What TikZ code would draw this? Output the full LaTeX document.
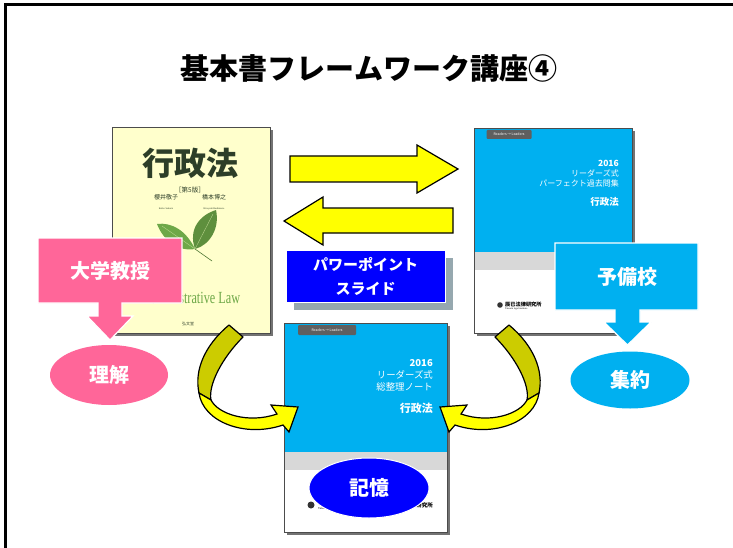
\documentclass[tikz,border=0pt]{standalone}
\usepackage{fontspec}
\usepackage{xcolor}
\usepackage{tikz}
\setmainfont{Liberation Serif}
\newfontfamily\jp{Noto Sans CJK JP}
\definecolor{pinkbox}{RGB}{255, 102, 153}
\definecolor{skyblue}{RGB}{0, 176, 240}
\definecolor{arrowyellow}{RGB}{255, 255, 0}
\definecolor{arrowolive}{RGB}{204, 204, 0}
\definecolor{pptblue}{RGB}{0, 0, 255}
\definecolor{pptshadow}{RGB}{150, 168, 175}
\definecolor{coveryellow}{RGB}{255, 255, 204}
\definecolor{leafgreen}{RGB}{110, 168, 72}
\definecolor{titlegreen}{RGB}{45, 62, 40}
\definecolor{bandgray}{RGB}{216, 216, 216}
\definecolor{tabgray}{RGB}{95, 95, 95}
\usetikzlibrary{shapes.geometric, arrows.meta, positioning, calc, shadows}

\tikzset{
    book/.style={draw=gray!60!black, line width=0.6pt, fill=white, anchor=north west,
                 inner sep=0pt, drop shadow={shadow xshift=2.5pt, shadow yshift=-2.5pt, fill=black, opacity=0.55}},
    bookline/.style={draw=gray!60!black, line width=0.6pt},
    covertext/.style={text=white, inner sep=0pt, anchor=east},
    tab/.style={fill=tabgray, rounded corners=1pt, text=white, inner sep=0pt,
                font=\jp\fontsize{3.5}{4}\selectfont},
    blockarrow/.style={fill=arrowyellow, draw=black, line width=1.2pt, line join=miter},
    callout/.style={draw=white, line width=1.2pt},
    bubble/.style={ellipse, inner sep=0pt, text=white, font=\jp\bfseries\fontsize{20}{20}\selectfont}
}

\begin{document}
\begin{tikzpicture}[x=1pt, y=-1pt]
    \useasboundingbox (0,0) rectangle (733,548);
    \fill[white] (0,0) rectangle (733,548);
    % slide frame
    \draw[line width=3pt] (5,548) -- (5,5) -- (733,5);

    \node[font=\jp\bfseries\fontsize{29}{34}\selectfont] (title) at (369,68) {基本書フレームワーク講座④};

    % textbook
    \node[book, fill=coveryellow, minimum width=158pt, minimum height=206pt] (kihonsho) at (112,127) {};
    \node[font=\jp\bfseries\fontsize{32}{32}\selectfont, text=titlegreen] (gyosei) at (190,163) {行政法};
    \node[font=\jp\fontsize{6.5}{7}\selectfont, text=titlegreen, below=2pt of gyosei] (edition) {［第5版］};
    \node[font=\jp\fontsize{6}{6}\selectfont, text=titlegreen] (author1) at (166,197) {櫻井敬子};
    \node[font=\jp\fontsize{6}{6}\selectfont, text=titlegreen] (author2) at (214,197) {橋本博之};
    \node[font=\fontsize{2.5}{3}\selectfont, text=titlegreen, below=0.5pt of author1] {Keiko Sakurai};
    \node[font=\fontsize{2.5}{3}\selectfont, text=titlegreen, below=0.5pt of author2] {Hiroyuki Hashimoto};
    \draw[leafgreen!70!black, line width=0.6pt] (195,249) -- (212,261);
    \fill[leafgreen] (195,249) .. controls (186,230) and (171,222) .. (157,224)
                     .. controls (163,240) and (178,252) .. (195,249) -- cycle;
    \fill[leafgreen!85!black] (195,249) .. controls (188,229) and (200,215) .. (216,210)
                     .. controls (220,228) and (210,245) .. (195,249) -- cycle;
    \draw[coveryellow!60!leafgreen, line width=0.3pt] (195,249) -- (162,226) (195,249) -- (213,214);
    \node[font=\fontsize{17}{17}\selectfont, text=leafgreen] (engtitle) at (191,298) {\scalebox{0.72}[1]{Administrative Law}};
    \node[font=\jp\fontsize{4}{4}\selectfont, text=titlegreen] (publisher) at (188,324) {弘文堂};

    % past exam collection
    \node[book, minimum width=158pt, minimum height=205pt] (kakomon) at (474,128) {};
    \fill[skyblue] (474,128) rectangle (632,252);
    \fill[bandgray] (474,252) rectangle (632,270);
    \draw[bookline] (kakomon.north west) rectangle (kakomon.south east);
    \node[tab, minimum width=45pt, minimum height=9pt] (tab1) at (509,134.5) {Readers → Leaders};
    \node[covertext, font=\jp\bfseries\fontsize{8.5}{9}\selectfont] (year1) at (619,163) {2016};
    \node[covertext, font=\jp\fontsize{8}{9}\selectfont] (series1) at (619,173) {リーダーズ式};
    \node[covertext, font=\jp\fontsize{8}{9}\selectfont] (name1) at (619,183.5) {パーフェクト過去問集};
    \node[covertext, font=\jp\bfseries\fontsize{9.5}{10}\selectfont] (subject1) at (619,202) {行政法};
    \fill[black!80] (500,305) circle (2.8pt);
    \node[font=\jp\bfseries\fontsize{5.2}{6}\selectfont, inner sep=0pt, anchor=west] (logo1) at (505,305) {辰已法律研究所};
    \node[font=\fontsize{2.5}{3}\selectfont, inner sep=0pt, anchor=north west] at (logo1.south west) {Tatsumi legal institute};

    % summary note
    \node[book, minimum width=163pt, minimum height=209pt] (note) at (284,323) {};
    \fill[skyblue] (284,323) rectangle (447,452);
    \fill[bandgray] (284,452) rectangle (447,470);
    \draw[bookline] (note.north west) rectangle (note.south east);
    \node[tab, minimum width=58pt, minimum height=10pt] (tab2) at (327,330) {Readers → Leaders};
    \node[covertext, font=\jp\bfseries\fontsize{9.5}{10}\selectfont] (year2) at (433,363) {2016};
    \node[covertext, font=\jp\fontsize{9.4}{10}\selectfont] (series2) at (433,374.5) {リーダーズ式};
    \node[covertext, font=\jp\fontsize{9.4}{10}\selectfont] (name2) at (433,387) {総整理ノート};
    \node[covertext, font=\jp\bfseries\fontsize{11}{11}\selectfont] (subject2) at (433,408) {行政法};
    \fill[black!80] (311,505) circle (3.5pt);
    \node[font=\fontsize{3}{3}\selectfont, inner sep=0pt, anchor=west] at (318,509) {Tatsumi legal institute};
    \node[font=\jp\bfseries\fontsize{5.5}{6}\selectfont, inner sep=0pt, anchor=east] at (433,505) {辰已法律研究所};
    \node[bubble, fill=pptblue, draw=white, line width=1pt, minimum width=120pt, minimum height=60pt] (kioku) at (369,488) {記憶};

    % arrows between the books
    \draw[blockarrow] (290,156) -- (417,156) -- (417,145) -- (458,169) -- (417,193) -- (417,182) -- (290,182) -- cycle;
    \draw[blockarrow] (453,208) -- (323,208) -- (323,197) -- (284,221) -- (323,245) -- (323,233) -- (453,233) -- cycle;

    \fill[pptshadow] (294,258) rectangle (453,310);
    \node[fill=pptblue, draw=white, line width=0.8pt, minimum width=159pt, minimum height=52pt, inner sep=0pt,
          text=white, align=center, font=\jp\bfseries\fontsize{15}{24}\selectfont] (slide) at (365.5,276) {パワーポイント\\スライド};

    % curved arrows into the note
    \foreach \flip/\shift in {1/0, -1/738} {
        \begin{scope}[xshift=\shift pt, xscale=\flip]
            \draw[fill=arrowolive, draw=black, line width=1.2pt, line join=round]
                (229,325) -- (243,337) .. controls (222,358) and (208,385) .. (211,400)
                -- (199,393) .. controls (194,370) and (205,345) .. (229,325) -- cycle;
            \draw[fill=arrowyellow, draw=black, line width=1.2pt, line join=miter]
                (199,393) .. controls (203,422) and (245,438) .. (283,425) -- (289,432) -- (298,407)
                -- (271,405) -- (277,414) .. controls (248,424) and (218,414) .. (211,400) -- cycle;
        \end{scope}
    }

    % who teaches what
    \draw[callout, fill=pinkbox] (38,238) -- (182,238) -- (182,303) -- (122,303) -- (122,316) -- (133,316) -- (110,340)
        -- (87,316) -- (98,316) -- (98,303) -- (38,303) -- cycle;
    \node[text=white, font=\jp\bfseries\fontsize{20}{20}\selectfont] (professor) at (110,271) {大学教授};
    \node[bubble, fill=pinkbox, minimum width=118pt, minimum height=60pt] (rikai) at (109,375) {理解};

    \draw[callout, fill=skyblue] (555,243) -- (698,243) -- (698,310) -- (640,310) -- (640,322) -- (651,322) -- (627.5,345)
        -- (604,322) -- (615,322) -- (615,310) -- (555,310) -- cycle;
    \node[text=white, font=\jp\bfseries\fontsize{20}{20}\selectfont] (yobiko) at (627,277) {予備校};
    \node[bubble, fill=skyblue, minimum width=119pt, minimum height=57pt] (shuyaku) at (630,380) {集約};
\end{tikzpicture}
\end{document}
